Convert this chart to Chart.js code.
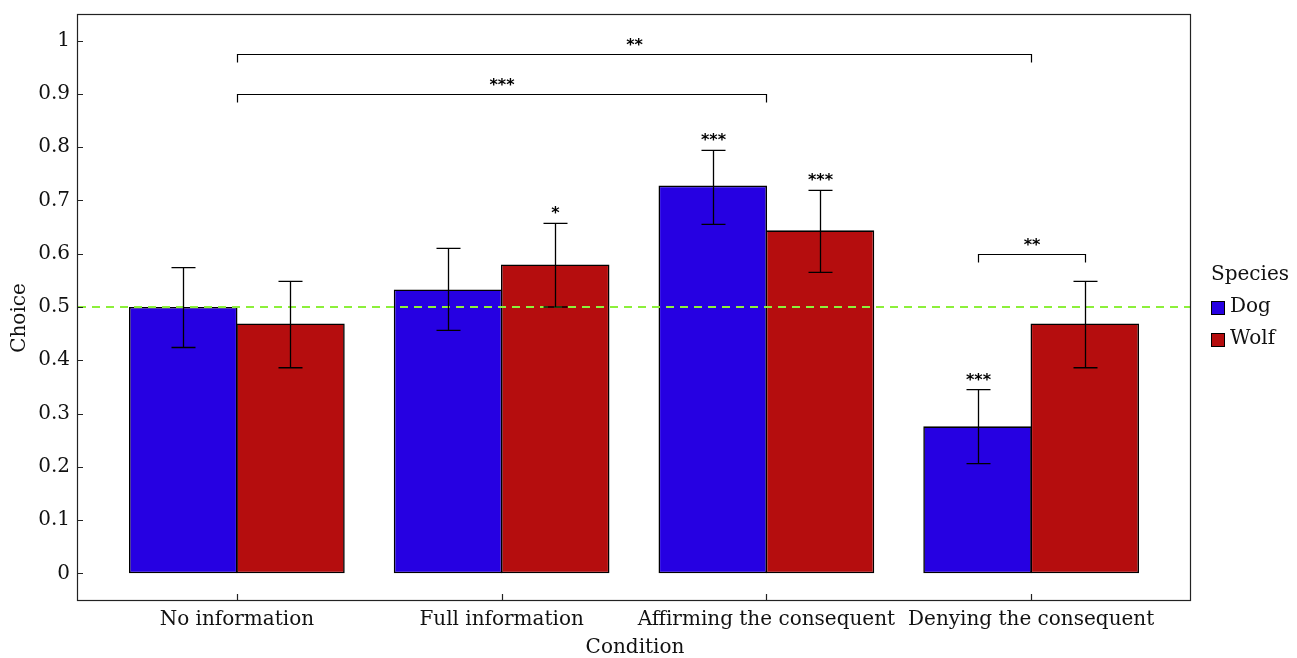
<!DOCTYPE html>
<html>
<head>
<meta charset="utf-8">
<script src="https://cdn.jsdelivr.net/npm/chart.js@4"></script>
<style>
html,body{margin:0;padding:0;background:#fff;}
#wrap{width:1297px;height:658px;position:relative;}
</style>
</head>
<body>
<div id="wrap"><canvas id="c" width="1297" height="658"></canvas></div>
<script>
const categories = ['No information', 'Full information', 'Affirming the consequent', 'Denying the consequent'];
const species = ['Dog', 'Wolf'];
const dogMean = [0.500, 0.533, 0.728, 0.276];
const wolfMean = [0.469, 0.580, 0.644, 0.469];
const dogLow = [0.424, 0.456, 0.655, 0.206];
const dogHigh = [0.574, 0.610, 0.794, 0.345];
const wolfLow = [0.386, 0.500, 0.565, 0.386];
const wolfHigh = [0.548, 0.657, 0.719, 0.548];
const dogStars = ['', '', '***', '***'];
const wolfStars = ['', '*', '***', ''];
const yTicks = ['0', '0.1', '0.2', '0.3', '0.4', '0.5', '0.6', '0.7', '0.8', '0.9', '1'];
const chanceLevel = 0.5;
const bracketFrom = [[0, null], [0, null], [3, 0]];
const bracketTo = [[3, null], [2, null], [3, 1]];
const bracketLevel = [0.974, 0.899, 0.600];
const bracketStars = ['**', '***', '**'];

const dogColor = '#2600E2';
const wolfColor = '#B50D0E';
const serif = '"DejaVu Serif", serif';
const starFont = 'bold 16px "DejaVu Sans", sans-serif';

const overlay = {
  id: 'overlay',
  afterDatasetsDraw(chart) {
    const ctx = chart.ctx;
    const ca = chart.chartArea;
    const xs = chart.scales.x, ys = chart.scales.y;
    const metas = [chart.getDatasetMeta(0), chart.getDatasetMeta(1)];
    const lows = [dogLow, wolfLow], highs = [dogHigh, wolfHigh];
    const stars = [dogStars, wolfStars];
    ctx.save();
    // chance line
    ctx.strokeStyle = '#8CF03A';
    ctx.lineWidth = 2;
    ctx.setLineDash([8, 6]);
    const cy = Math.round(ys.getPixelForValue(chanceLevel));
    ctx.beginPath();
    ctx.moveTo(ca.left, cy);
    ctx.lineTo(ca.right, cy);
    ctx.stroke();
    ctx.setLineDash([]);
    // error bars
    ctx.strokeStyle = '#000';
    ctx.lineWidth = 1.3;
    metas.forEach((m, d) => {
      m.data.forEach((bar, i) => {
        const x = Math.round(bar.x) + 0.5;
        const yl = ys.getPixelForValue(lows[d][i]);
        const yh = ys.getPixelForValue(highs[d][i]);
        ctx.beginPath();
        ctx.moveTo(x, yl); ctx.lineTo(x, yh);
        ctx.moveTo(x - 12, yl); ctx.lineTo(x + 12, yl);
        ctx.moveTo(x - 12, yh); ctx.lineTo(x + 12, yh);
        ctx.stroke();
        if (stars[d][i]) {
          ctx.fillStyle = '#000';
          ctx.font = starFont;
          ctx.textAlign = 'center';
          ctx.textBaseline = 'alphabetic';
          ctx.fillText(stars[d][i], x, yh - 5);
        }
      });
    });
    // brackets
    const px = (ref) => ref[1] === null ? xs.getPixelForValue(ref[0]) : metas[ref[1]].data[ref[0]].x;
    ctx.lineWidth = 1.2;
    bracketLevel.forEach((lv, k) => {
      const x1 = Math.round(px(bracketFrom[k])) + 0.5;
      const x2 = Math.round(px(bracketTo[k])) + 0.5;
      const y = Math.round(ys.getPixelForValue(lv)) + 0.5;
      ctx.beginPath();
      ctx.moveTo(x1, y + 8); ctx.lineTo(x1, y); ctx.lineTo(x2, y); ctx.lineTo(x2, y + 8);
      ctx.stroke();
      ctx.font = starFont;
      ctx.textAlign = 'center';
      ctx.textBaseline = 'alphabetic';
      ctx.fillText(bracketStars[k], (x1 + x2) / 2, y - 5);
    });
    // frame
    ctx.strokeStyle = '#222';
    ctx.lineWidth = 1.2;
    ctx.strokeRect(ca.left - 0.5, ca.top + 0.5, ca.right - ca.left + 1, ca.bottom - ca.top);
    // tick marks
    ctx.beginPath();
    yTicks.forEach(t => {
      const y = Math.round(ys.getPixelForValue(parseFloat(t))) + 0.5;
      ctx.moveTo(ca.left, y); ctx.lineTo(ca.left + 5, y);
    });
    categories.forEach((c, i) => {
      const x = Math.round(xs.getPixelForValue(i)) + 0.5;
      ctx.moveTo(x, ca.bottom); ctx.lineTo(x, ca.bottom - 6);
    });
    ctx.stroke();
    // axis titles
    ctx.fillStyle = '#111';
    ctx.font = '20px ' + serif;
    ctx.textAlign = 'center';
    ctx.textBaseline = 'middle';
    ctx.fillText('Condition', (ca.left + ca.right) / 2 + 1, 648);
    ctx.save();
    ctx.translate(20, (ca.top + ca.bottom) / 2 + 11);
    ctx.rotate(-Math.PI / 2);
    ctx.fillText('Choice', 0, 0);
    ctx.restore();
    // legend
    ctx.textAlign = 'left';
    ctx.fillText('Species', 1211, 275);
    const colors = [dogColor, wolfColor];
    species.forEach((s, i) => {
      const y = 301 + i * 32;
      ctx.fillStyle = colors[i];
      ctx.fillRect(1211, y, 14, 14);
      ctx.strokeStyle = '#000';
      ctx.lineWidth = 1;
      ctx.strokeRect(1211.5, y + 0.5, 13, 13);
      ctx.fillStyle = '#111';
      ctx.fillText(s, 1230, y + 6);
    });
    ctx.restore();
  }
};

new Chart(document.getElementById('c'), {
  type: 'bar',
  data: {
    datasets: [
      { label: species[0], data: dogMean.map((v, i) => ({ x: i, y: v })), backgroundColor: dogColor },
      { label: species[1], data: wolfMean.map((v, i) => ({ x: i, y: v })), backgroundColor: wolfColor }
    ]
  },
  options: {
    responsive: false,
    animation: false,
    events: [],
    layout: { padding: { left: 0, top: 14, right: 107, bottom: 0 } },
    datasets: {
      bar: { categoryPercentage: 0.81, barPercentage: 1.012, borderColor: '#000', borderWidth: 1.6, borderSkipped: false }
    },
    plugins: { legend: { display: false }, tooltip: { enabled: false } },
    scales: {
      x: {
        type: 'linear', min: -0.6, max: 3.6, offset: false,
        grid: { display: false, drawTicks: false },
        border: { display: false },
        afterFit: (s) => { s.height = 58; s.paddingLeft = 0; s.paddingRight = 0; },
        afterBuildTicks: (s) => { s.ticks = categories.map((c, i) => ({ value: i })); },
        ticks: {
          padding: 8, color: '#111', font: { family: serif, size: 20 },
          maxRotation: 0, autoSkip: false,
          callback: (v) => categories[v]
        }
      },
      y: {
        type: 'linear', min: -0.05, max: 1.05,
        grid: { display: false, drawTicks: false },
        border: { display: false },
        afterFit: (s) => { s.width = 78; s.paddingTop = 0; s.paddingBottom = 0; },
        afterBuildTicks: (s) => { s.ticks = yTicks.map(t => ({ value: parseFloat(t) })); },
        ticks: {
          padding: 8, color: '#111', font: { family: serif, size: 20 },
          callback: (v) => yTicks.find(t => Math.abs(parseFloat(t) - v) < 1e-9) || ''
        }
      }
    }
  },
  plugins: [overlay]
});
</script>
</body>
</html>
